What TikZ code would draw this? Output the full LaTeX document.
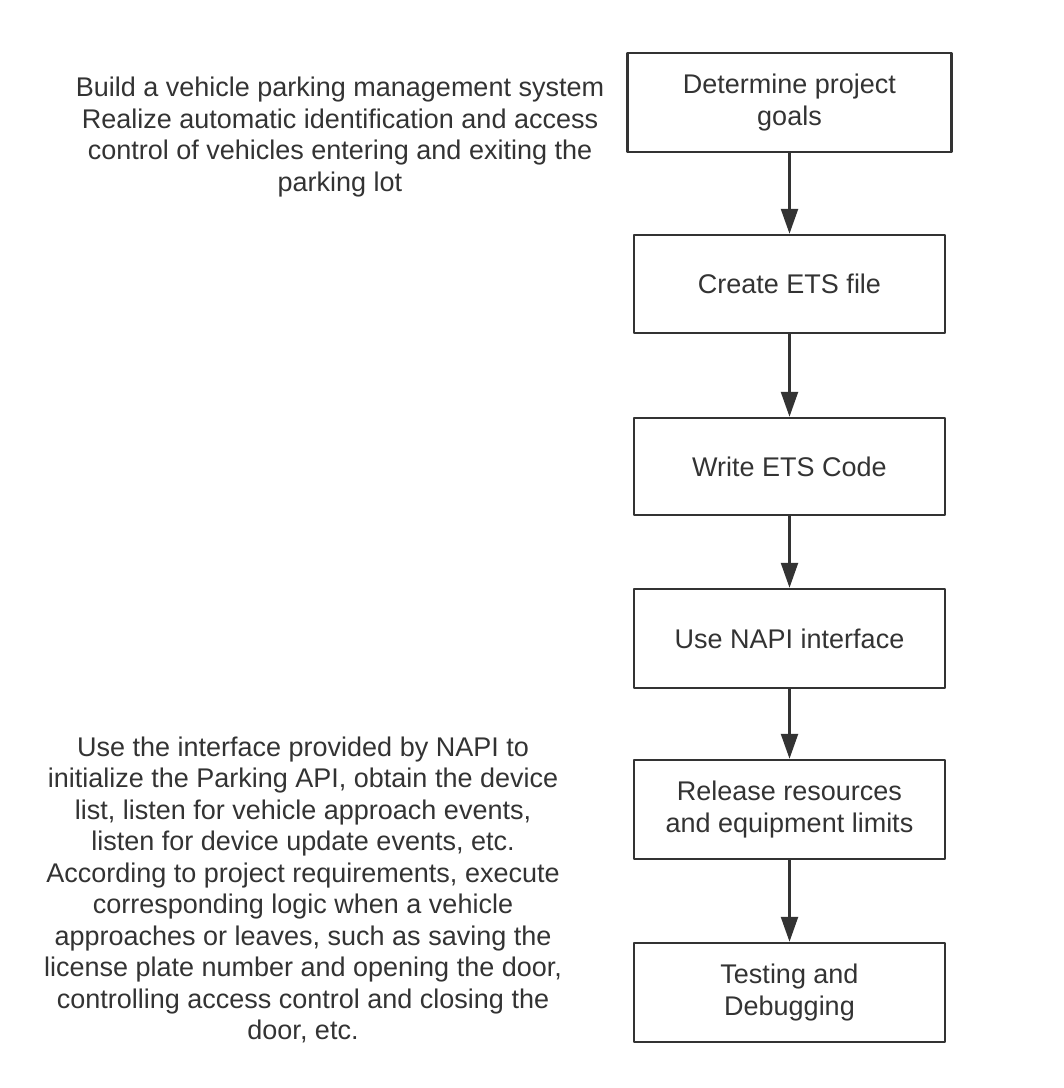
\documentclass[tikz,border=0pt]{standalone}
\usepackage{fontspec}
\setmainfont{Liberation Sans}
\usetikzlibrary{arrows.meta}
\definecolor{linegray}{HTML}{333333}

\begin{document}
\begin{tikzpicture}[x=1pt, y=-1pt, line join=round,
  stepbox/.style={draw=linegray, line width=2.5pt, minimum width=311pt, minimum height=98pt,
    align=center, text=linegray, font=\fontsize{27}{32}\selectfont},
  note/.style={align=center, text=linegray, font=\fontsize{27}{31.5}\selectfont},
  flow/.style={draw=linegray, line width=2.5pt, -{Triangle[length=25pt,width=17pt]}}]

  \useasboundingbox (0,0) rectangle (1064,1088);

  % Process steps
  \node[stepbox, minimum width=324pt, minimum height=99pt] (goals) at (789.5,102.5) {Determine project\\goals};
  \node[stepbox] (etsfile) at (789.5,284) {Create ETS file};
  \node[stepbox, minimum height=97pt] (etscode) at (789.5,466.5) {Write ETS Code};
  \node[stepbox, minimum height=99pt] (napi) at (789.5,638.5) {Use NAPI interface};
  \node[stepbox, minimum height=99pt] (release) at (789.5,809.5) {Release resources\\and equipment limits};
  \node[stepbox, minimum height=99pt] (testing) at (789.5,992.5) {Testing and\\Debugging};

  % Arrows between steps
  \draw[flow] (goals) -- (etsfile);
  \draw[flow] (etsfile) -- (etscode);
  \draw[flow] (etscode) -- (napi);
  \draw[flow] (napi) -- (release);
  \draw[flow] (release) -- (testing);

  % Notes
  \node[note] (goalnote) at (340,137) {Build a vehicle parking management system\\
    Realize automatic identification and access\\
    control of vehicles entering and exiting the\\
    parking lot};
  \node[note] (napinote) at (303,890) {Use the interface provided by NAPI to\\
    initialize the Parking API, obtain the device\\
    list, listen for vehicle approach events,\\
    listen for device update events, etc.\\
    According to project requirements, execute\\
    corresponding logic when a vehicle\\
    approaches or leaves, such as saving the\\
    license plate number and opening the door,\\
    controlling access control and closing the\\
    door, etc.};

\end{tikzpicture}
\end{document}
